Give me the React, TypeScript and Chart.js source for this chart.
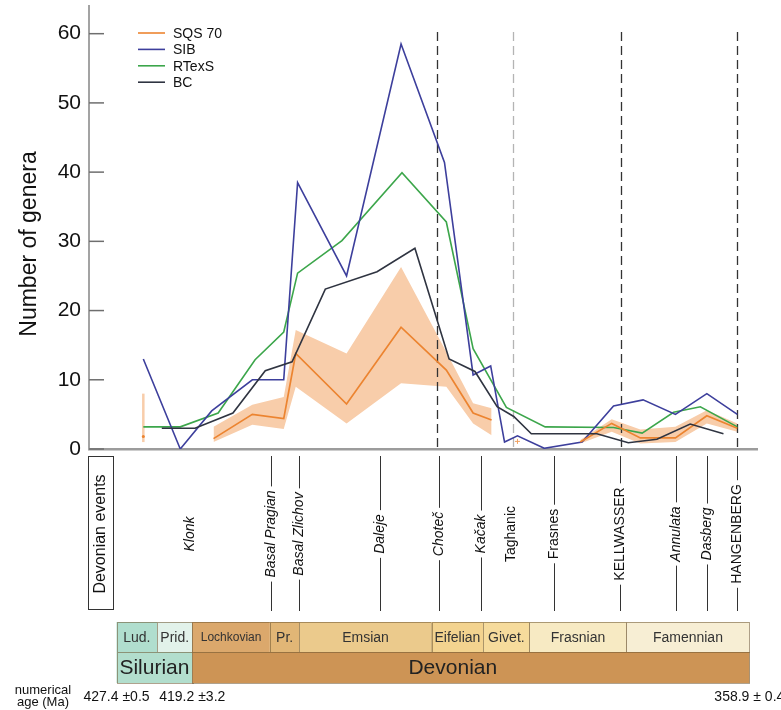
import React, { useEffect, useRef } from "react";
import { Chart, registerables } from "chart.js";

Chart.register(...registerables);

const FONT = "'Liberation Sans', Arial, Helvetica, sans-serif";

// ---------- series data (x = age in Ma, y = number of genera) ----------
const sibAges = [424.5, 420.5, 417.1, 412.7, 409.3, 407.8, 402.5, 396.6, 391.9, 388.8, 386.9, 385.4, 384.0, 381.1, 377.0, 373.6, 370.4, 366.9, 363.5, 360.2];
const sibValues = [13.0, 0, 5.5, 10.0, 10.0, 38.5, 25.0, 58.5, 41.4, 10.7, 12.0, 1.0, 1.9, 0.1, 1.0, 6.2, 7.1, 5.0, 8.0, 5.0];

const rtexsAges = [424.5, 420.5, 416.4, 412.4, 409.3, 407.8, 403.0, 396.5, 391.7, 388.8, 385.2, 381.0, 373.6, 370.5, 367.1, 364.2, 360.2];
const rtexsValues = [3.2, 3.2, 5.2, 12.9, 16.9, 25.4, 30.1, 39.9, 32.8, 14.5, 6.0, 3.2, 3.1, 2.3, 5.3, 6.1, 3.2];

const bcAges = [422.5, 418.9, 414.8, 411.3, 408.4, 404.8, 399.2, 395.1, 391.4, 388.6, 386.2, 384.4, 382.5, 375.4, 372.0, 368.9, 365.3, 361.7];
const bcValues = [3.0, 3.0, 5.2, 11.3, 12.6, 23.1, 25.6, 29.0, 13.0, 11.2, 6.1, 4.7, 2.2, 2.2, 0.9, 1.4, 3.6, 2.2];

const sqsAges1 = [416.9, 412.7, 409.3, 408.0, 402.5, 396.6, 391.7, 388.8, 386.8];
const sqsValues1 = [1.5, 5.0, 4.4, 13.8, 6.5, 17.6, 11.4, 5.2, 4.2];
const sqsUpper1 = [3.2, 6.4, 7.5, 17.2, 13.8, 26.3, 14.0, 6.6, 5.9];
const sqsLower1 = [1.0, 3.5, 2.9, 9.0, 3.7, 9.5, 9.0, 3.7, 2.0];

const sqsAges2 = [377.2, 373.8, 370.7, 366.9, 363.5, 360.2];
const sqsValues2 = [1.0, 3.7, 1.6, 1.6, 4.8, 3.0];
const sqsUpper2 = [1.3, 4.3, 2.8, 3.2, 5.6, 3.7];
const sqsLower2 = [0.8, 2.5, 0.8, 1.0, 3.7, 2.5];

const sqsSingleAge = [424.5];
const sqsSingleValue = [1.8];
const sqsSingleRange = [1.0, 8.0];
const sqsCrossAge = [384.0];
const sqsCrossValue = [1.1];

const seriesNames = ["SQS 70", "SIB", "RTexS", "BC"];
const seriesColors = ["#ec8430", "#3d3f9c", "#3ca64b", "#2f3441"];
const bandColor = "#f8cdaa";

const yTicks = [0, 10, 20, 30, 40, 50, 60];
const yMax = 64;
const xMinAge = 358.07;
const xMaxAge = 430.38;

// ---------- events ----------
const eventNames = ["Klonk", "Basal Pragian", "Basal Zlichov", "Daleje", "Choteč", "Kačak", "Taghanic", "Frasnes", "KELLWASSER", "Annulata", "Dasberg", "HANGENBERG"];
const eventAges = [419.45, 410.71, 407.65, 398.88, 392.46, 387.95, 384.7, 380.07, 372.87, 366.84, 363.45, 360.26];
const eventItalic = [true, true, true, true, true, true, false, false, false, true, true, false];
const eventHasLine = [false, true, true, true, true, true, false, true, true, true, true, true];

const dashedAges = [392.74, 384.45, 372.82, 360.26];
const dashedColors = ["#333333", "#b4b4b4", "#333333", "#333333"];

// ---------- timescale ----------
const stageNames = ["Lud.", "Prid.", "Lochkovian", "Pr.", "Emsian", "Eifelian", "Givet.", "Frasnian", "Famennian"];
const stageStarts = [427.4, 423.0, 419.2, 410.8, 407.6, 393.3, 387.7, 382.7, 372.2];
const stageEnds = [423.0, 419.2, 410.8, 407.6, 393.3, 387.7, 382.7, 372.2, 358.9];
const stageColors = ["#b0dece", "#e2f2ea", "#dba86c", "#e1b676", "#ebca8c", "#f3d38f", "#f6db9c", "#f7eac3", "#f7eed4"];
const stageFontSizes = [14, 14, 12, 14, 14, 14, 14, 14, 14];

const periodNames = ["Silurian", "Devonian"];
const periodStarts = [427.4, 419.2];
const periodEnds = [419.2, 358.9];
const periodLabelAges = [423.3, 391.0];
const periodColors = ["#b2decd", "#cd9455"];

const ageLabels = ["427.4 ±0.5", "419.2 ±3.2", "358.9 ± 0.4"];
const ageLabelAges = [427.4, 419.2, 358.9];

const pts = (ages: number[], vals: number[]) => ages.map((a, i) => ({ x: a, y: vals[i] }));

const decorPlugin = {
  id: "devonianDecor",
  afterDatasetDraw(chart: any, args: any) {
    if (args.index !== 4) return;
    const { ctx, chartArea: ca, scales } = chart;
    ctx.save();
    ctx.lineWidth = 1.3;
    ctx.setLineDash([9, 5]);
    dashedAges.forEach((a, i) => {
      const px = Math.round(scales.x.getPixelForValue(a)) + 0.5;
      ctx.strokeStyle = dashedColors[i];
      ctx.beginPath();
      ctx.moveTo(px, ca.top + 26);
      ctx.lineTo(px, ca.bottom);
      ctx.stroke();
    });
    ctx.restore();
  },
  afterDraw(chart: any) {
    const { ctx, chartArea: ca, scales } = chart;
    const X = (a: number) => scales.x.getPixelForValue(a);
    ctx.save();

    // inward y ticks
    ctx.strokeStyle = "#6e6e6e";
    ctx.lineWidth = 1.5;
    yTicks.forEach((v) => {
      const py = scales.y.getPixelForValue(v);
      ctx.beginPath();
      ctx.moveTo(ca.left, py);
      ctx.lineTo(ca.left + 15, py);
      ctx.stroke();
    });

    // y title
    ctx.fillStyle = "#111";
    ctx.font = `23px ${FONT}`;
    ctx.textAlign = "center";
    ctx.textBaseline = "middle";
    ctx.save();
    ctx.translate(30, 244);
    ctx.rotate(-Math.PI / 2);
    ctx.fillText("Number of genera", 0, 0);
    ctx.restore();

    // legend
    ctx.font = `14px ${FONT}`;
    ctx.textAlign = "left";
    seriesNames.forEach((name, i) => {
      const ly = ca.top + 27 + i * 16.4;
      const lx = ca.left + 49;
      ctx.strokeStyle = seriesColors[i];
      ctx.lineWidth = 1.6;
      ctx.beginPath();
      ctx.moveTo(lx, ly);
      ctx.lineTo(lx + 27, ly);
      ctx.stroke();
      ctx.fillStyle = "#111";
      ctx.fillText(name, lx + 35, ly + 1);
    });

    // events
    const evTop = ca.bottom + 7;
    const evBottom = ca.bottom + 162;
    const evMid = ca.bottom + 85;
    eventNames.forEach((name, i) => {
      const px = Math.round(X(eventAges[i])) + 0.5;
      ctx.font = `${eventItalic[i] ? "italic " : ""}14px ${FONT}`;
      const w = ctx.measureText(name).width;
      ctx.fillStyle = "#111";
      ctx.textAlign = "center";
      ctx.textBaseline = "middle";
      ctx.save();
      ctx.translate(px, evMid);
      ctx.rotate(-Math.PI / 2);
      ctx.fillText(name, 0, 0);
      ctx.restore();
      if (eventHasLine[i]) {
        ctx.strokeStyle = "#333";
        ctx.lineWidth = 1;
        ctx.beginPath();
        ctx.moveTo(px, evTop);
        ctx.lineTo(px, evMid - w / 2 - 4);
        ctx.moveTo(px, evMid + w / 2 + 4);
        ctx.lineTo(px, evBottom);
        ctx.stroke();
      }
    });

    // Devonian events box
    ctx.strokeStyle = "#333";
    ctx.lineWidth = 1;
    ctx.strokeRect(ca.left - 0.5, evTop + 0.5, 25, 153);
    ctx.font = `16px ${FONT}`;
    ctx.fillStyle = "#111";
    ctx.save();
    ctx.translate(ca.left + 12, evMid);
    ctx.rotate(-Math.PI / 2);
    ctx.fillText("Devonian events", 0, 0);
    ctx.restore();

    // timescale
    const r1 = ca.bottom + 173;
    const r2 = ca.bottom + 203;
    const r3 = ca.bottom + 234;
    stageNames.forEach((name, i) => {
      const x1 = X(stageStarts[i]);
      const x2 = X(stageEnds[i]);
      ctx.fillStyle = stageColors[i];
      ctx.fillRect(x1, r1, x2 - x1, r2 - r1);
      ctx.strokeStyle = "rgba(110,85,50,0.55)";
      ctx.lineWidth = 1;
      ctx.strokeRect(Math.round(x1) + 0.5, r1 + 0.5, Math.round(x2 - x1), r2 - r1);
      ctx.fillStyle = "#333";
      ctx.font = `${stageFontSizes[i]}px ${FONT}`;
      ctx.textAlign = "center";
      ctx.textBaseline = "middle";
      ctx.fillText(name, (x1 + x2) / 2, (r1 + r2) / 2 + 1);
    });
    periodNames.forEach((name, i) => {
      const x1 = X(periodStarts[i]);
      const x2 = X(periodEnds[i]);
      ctx.fillStyle = periodColors[i];
      ctx.fillRect(x1, r2, x2 - x1, r3 - r2);
      ctx.strokeStyle = "rgba(110,85,50,0.55)";
      ctx.lineWidth = 1;
      ctx.strokeRect(Math.round(x1) + 0.5, r2 + 0.5, Math.round(x2 - x1), r3 - r2);
      ctx.fillStyle = "#222";
      ctx.font = `21px ${FONT}`;
      ctx.textAlign = "center";
      ctx.textBaseline = "middle";
      ctx.fillText(name, X(periodLabelAges[i]), (r2 + r3) / 2 + 1);
    });

    // numerical ages
    ctx.fillStyle = "#111";
    ctx.font = `13px ${FONT}`;
    ctx.textAlign = "center";
    ctx.textBaseline = "middle";
    ctx.fillText("numerical", 43, ca.bottom + 241);
    ctx.fillText("age (Ma)", 43, ca.bottom + 253);
    ctx.font = `14px ${FONT}`;
    ageLabels.forEach((t, i) => {
      ctx.fillText(t, X(ageLabelAges[i]), ca.bottom + 248);
    });

    ctx.restore();
  },
};

export default function App() {
  const ref = useRef<HTMLCanvasElement | null>(null);

  useEffect(() => {
    document.body.style.margin = "0";
    const canvas = ref.current;
    if (!canvas) return;
    const chart = new Chart(canvas, {
      type: "line",
      data: {
        datasets: [
          { label: "SQS 70", data: pts(sqsAges1, sqsValues1), borderColor: seriesColors[0], borderWidth: 1.7, order: 1 },
          { label: "SQS 70 b", data: pts(sqsAges2, sqsValues2), borderColor: seriesColors[0], borderWidth: 1.7, order: 2 },
          { label: "SIB", data: pts(sibAges, sibValues), borderColor: seriesColors[1], borderWidth: 1.6, order: 3 },
          { label: "RTexS", data: pts(rtexsAges, rtexsValues), borderColor: seriesColors[2], borderWidth: 1.6, order: 4 },
          { label: "band upper 1", data: pts(sqsAges1, sqsUpper1), borderWidth: 0, backgroundColor: bandColor, fill: "+1", order: 20 },
          { label: "band lower 1", data: pts(sqsAges1, sqsLower1), borderWidth: 0, fill: false, order: 21 },
          { label: "band upper 2", data: pts(sqsAges2, sqsUpper2), borderWidth: 0, backgroundColor: bandColor, fill: "+1", order: 22 },
          { label: "band lower 2", data: pts(sqsAges2, sqsLower2), borderWidth: 0, fill: false, order: 23 },
          { label: "BC", data: pts(bcAges, bcValues), borderColor: seriesColors[3], borderWidth: 1.6, order: 0 },
          { label: "single range", data: pts([sqsSingleAge[0], sqsSingleAge[0]], sqsSingleRange), borderColor: bandColor, borderWidth: 2.5, order: 15 },
          { label: "single", data: pts(sqsSingleAge, sqsSingleValue), showLine: false, pointRadius: 1.5, pointBackgroundColor: seriesColors[0], pointBorderWidth: 0, order: 5 },
          { label: "cross", data: pts(sqsCrossAge, sqsCrossValue), showLine: false, pointRadius: 2.5, pointStyle: "cross", pointBorderColor: "#f0a060", pointBorderWidth: 1, order: 6 },
        ] as any,
      },
      options: {
        animation: false,
        responsive: false,
        layout: { padding: { top: 6, right: 24, bottom: 0, left: 0 } },
        plugins: { legend: { display: false }, tooltip: { enabled: false } },
        elements: { point: { radius: 0 }, line: { tension: 0 } },
        scales: {
          x: {
            type: "linear",
            reverse: true,
            min: xMinAge,
            max: xMaxAge,
            ticks: { display: false },
            grid: { display: false, drawTicks: false },
            border: { display: true, color: "#9c9c9c", width: 2.5 },
            afterFit(s: any) {
              s.height = 261;
              s.paddingLeft = 0;
              s.paddingRight = 0;
            },
          },
          y: {
            type: "linear",
            min: 0,
            max: yMax,
            afterBuildTicks(s: any) {
              s.ticks = yTicks.map((v) => ({ value: v }));
            },
            ticks: { font: { family: FONT, size: 21 }, color: "#111", padding: 8 },
            grid: { display: false, drawTicks: false },
            border: { display: true, color: "#a3a3a3", width: 2 },
            afterFit(s: any) {
              s.width = 89;
              s.paddingTop = 0;
              s.paddingBottom = 0;
            },
          },
        },
      } as any,
      plugins: [decorPlugin as any],
    });
    return () => chart.destroy();
  }, []);

  return <canvas ref={ref} width={781} height={710} style={{ display: "block" }} />;
}
